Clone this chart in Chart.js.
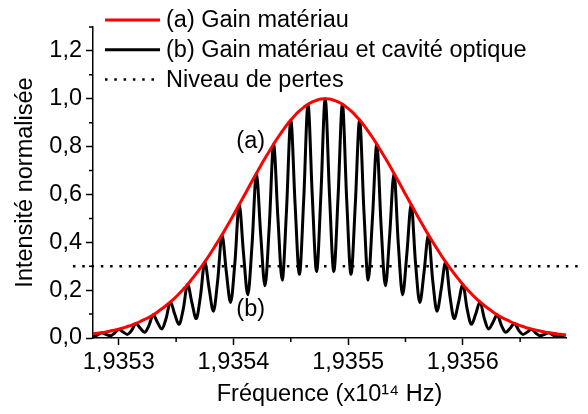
<!DOCTYPE html>
<html>
<head>
<meta charset="utf-8">
<script src="https://cdn.jsdelivr.net/npm/chart.js@4.4.1/dist/chart.umd.min.js"></script>
<style>
  body { margin: 0; background: #fff; }
  #cadre { width: 588px; height: 414px; }
</style>
</head>
<body>
<div id="cadre"><canvas id="graphe" width="588" height="414"></canvas></div>
<script>
// fréquence (x10^14 Hz)
const frequence = [
  1.9352775, 1.93528125, 1.935285, 1.93528875, 1.9352925, 1.93529625, 1.9353, 1.93530375,
  1.9353075, 1.93531125, 1.935315, 1.93531875, 1.9353225, 1.93532625, 1.93533, 1.93533375,
  1.9353375, 1.93534125, 1.935345, 1.93534875, 1.9353525, 1.93535625, 1.93536, 1.93536375,
  1.9353675, 1.93537125, 1.935375, 1.93537875, 1.9353825, 1.93538625, 1.93539, 1.93539375,
  1.9353975, 1.93540125, 1.935405, 1.93540875, 1.9354125, 1.93541625, 1.93542, 1.93542375,
  1.9354275, 1.93543125, 1.935435, 1.93543875, 1.9354425, 1.93544625, 1.93545, 1.93545375,
  1.9354575, 1.93546125, 1.935465, 1.93546875, 1.9354725, 1.93547625, 1.93548, 1.93548375,
  1.9354875, 1.93549125, 1.935495, 1.93549875, 1.9355025, 1.93550625, 1.93551, 1.93551375,
  1.9355175, 1.93552125, 1.935525, 1.93552875, 1.9355325, 1.93553625, 1.93554, 1.93554375,
  1.9355475, 1.93555125, 1.935555, 1.93555875, 1.9355625, 1.93556625, 1.93557, 1.93557375,
  1.9355775, 1.93558125, 1.935585, 1.93558875, 1.9355925, 1.93559625, 1.9356, 1.93560375,
  1.9356075, 1.93561125, 1.935615, 1.93561875, 1.9356225, 1.93562625, 1.93563, 1.93563375,
  1.9356375, 1.93564125, 1.935645, 1.93564875, 1.9356525, 1.93565625, 1.93566, 1.93566375,
  1.9356675, 1.93567125, 1.935675, 1.93567875, 1.9356825, 1.93568625, 1.93569
];

// (a) gain matériau
const gainMateriau = [
  0.018, 0.020, 0.022, 0.025, 0.029, 0.033, 0.037, 0.042,
  0.048, 0.054, 0.061, 0.069, 0.078, 0.086, 0.097, 0.109,
  0.122, 0.136, 0.151, 0.167, 0.185, 0.204, 0.224, 0.246,
  0.269, 0.293, 0.318, 0.345, 0.373, 0.402, 0.431, 0.462,
  0.493, 0.525, 0.558, 0.590, 0.623, 0.656, 0.688, 0.720,
  0.751, 0.781, 0.810, 0.838, 0.864, 0.889, 0.911, 0.931,
  0.949, 0.964, 0.977, 0.987, 0.994, 0.999, 1.000, 0.999,
  0.994, 0.987, 0.977, 0.964, 0.949, 0.931, 0.911, 0.889,
  0.864, 0.838, 0.810, 0.781, 0.751, 0.720, 0.688, 0.656,
  0.623, 0.590, 0.558, 0.525, 0.493, 0.462, 0.431, 0.402,
  0.373, 0.345, 0.318, 0.293, 0.269, 0.246, 0.224, 0.204,
  0.185, 0.167, 0.151, 0.136, 0.122, 0.109, 0.097, 0.086,
  0.078, 0.069, 0.061, 0.054, 0.048, 0.042, 0.037, 0.033,
  0.029, 0.025, 0.022, 0.020, 0.017, 0.015, 0.013
];

// (b) gain matériau et cavité optique
const gainCavite = [
  0.006, 0.012, 0.022, 0.015, 0.009, 0.020, 0.037, 0.025,
  0.015, 0.032, 0.061, 0.041, 0.024, 0.052, 0.097, 0.065,
  0.038, 0.082, 0.151, 0.100, 0.057, 0.122, 0.224, 0.148,
  0.081, 0.176, 0.318, 0.207, 0.112, 0.241, 0.431, 0.277,
  0.148, 0.315, 0.558, 0.354, 0.181, 0.394, 0.688, 0.432,
  0.218, 0.469, 0.810, 0.503, 0.242, 0.533, 0.911, 0.559,
  0.266, 0.578, 0.977, 0.592, 0.278, 0.599, 1.000, 0.599,
  0.278, 0.592, 0.977, 0.578, 0.266, 0.559, 0.911, 0.533,
  0.242, 0.503, 0.810, 0.469, 0.218, 0.432, 0.688, 0.394,
  0.181, 0.354, 0.558, 0.315, 0.148, 0.277, 0.431, 0.241,
  0.112, 0.207, 0.318, 0.176, 0.081, 0.148, 0.224, 0.122,
  0.057, 0.100, 0.151, 0.082, 0.038, 0.065, 0.097, 0.052,
  0.024, 0.041, 0.061, 0.032, 0.015, 0.025, 0.037, 0.020,
  0.009, 0.015, 0.022, 0.012, 0.005, 0.009, 0.013
];

// niveau de pertes
const niveauPertes = 0.3;
const pertesDebut = 1.93526;
const pertesFin = 1.935705;

const ticksX = [1.9353, 1.9354, 1.9355, 1.9356];
const ticksXMineurs = [1.93535, 1.93545, 1.93555, 1.93565];
const ticksY = [0, 0.2, 0.4, 0.6, 0.8, 1.0, 1.2];
const ticksYMineurs = [0.1, 0.3, 0.5, 0.7, 0.9, 1.1, 1.3];

const annotations = [
  { texte: '(a)', x: 1.935415, y: 0.82 },
  { texte: '(b)', x: 1.935415, y: 0.117 }
];

const police = '"Liberation Sans", Arial, sans-serif';
Chart.defaults.font.family = police;
Chart.defaults.font.size = 23.5;
Chart.defaults.color = '#000';

const ticksMineurs = {
  id: 'ticksMineurs',
  afterDraw(chart) {
    const { ctx, scales: { x, y } } = chart;
    ctx.save();
    ctx.strokeStyle = '#000';
    ctx.lineWidth = 1.5;
    ctx.beginPath();
    ticksXMineurs.forEach(v => {
      const px = x.getPixelForValue(v);
      ctx.moveTo(px, x.top);
      ctx.lineTo(px, x.top + 4);
    });
    ticksYMineurs.forEach(v => {
      const py = y.getPixelForValue(v);
      ctx.moveTo(y.right, py);
      ctx.lineTo(y.right - 4, py);
    });
    ctx.stroke();
    ctx.restore();
  }
};

const textes = {
  id: 'textes',
  afterDraw(chart) {
    const { ctx, scales: { x, y } } = chart;
    ctx.save();
    ctx.font = '23.5px ' + police;
    ctx.fillStyle = '#000';
    ctx.textBaseline = 'middle';
    ctx.textAlign = 'center';
    annotations.forEach(a => {
      ctx.fillText(a.texte, x.getPixelForValue(a.x), y.getPixelForValue(a.y));
    });

    // légende
    ctx.textAlign = 'left';
    chart.data.datasets.forEach((ds, i) => {
      const yy = 20 + i * 29.8;
      ctx.strokeStyle = ds.borderColor;
      ctx.lineWidth = ds.borderWidth;
      ctx.setLineDash(ds.borderDash || []);
      ctx.beginPath();
      ctx.moveTo(105, yy);
      ctx.lineTo(160, yy);
      ctx.stroke();
      ctx.fillText(ds.label, 166, yy + 1);
    });
    ctx.restore();
  }
};

new Chart(document.getElementById('graphe'), {
  type: 'line',
  data: {
    labels: frequence,
    datasets: [
      {
        label: '(a) Gain matériau',
        data: gainMateriau,
        borderColor: '#ff0000',
        borderWidth: 3,
        pointRadius: 0,
        tension: 0.4,
        fill: false
      },
      {
        label: '(b) Gain matériau et cavité optique',
        data: gainCavite,
        borderColor: '#000000',
        borderWidth: 3,
        pointRadius: 0,
        cubicInterpolationMode: 'monotone',
        fill: false
      },
      {
        label: 'Niveau de pertes',
        data: [{ x: pertesDebut, y: niveauPertes }, { x: pertesFin, y: niveauPertes }],
        borderColor: '#000000',
        borderWidth: 2.5,
        borderDash: [2.5, 6.8],
        pointRadius: 0,
        clip: false,
        fill: false
      }
    ]
  },
  options: {
    responsive: false,
    animation: false,
    layout: { padding: { top: 27, right: 22, left: 0, bottom: 0 } },
    plugins: {
      legend: { display: false },
      tooltip: { enabled: false }
    },
    scales: {
      x: {
        type: 'linear',
        min: frequence[0],
        max: frequence[frequence.length - 1],
        afterBuildTicks: s => { s.ticks = ticksX.map(v => ({ value: v })); },
        afterFit: s => { s.height = 76; },
        ticks: {
          autoSkip: false,
          maxRotation: 0,
          padding: 3,
          callback: v => v.toFixed(4).replace('.', ',')
        },
        grid: { drawOnChartArea: false, tickLength: 7, tickWidth: 1.5, tickColor: '#000' },
        border: { color: '#000', width: 1.5 },
        title: {
          display: true,
          text: 'Fréquence (x10¹⁴ Hz)',
          padding: { top: 0, bottom: 5 }
        }
      },
      y: {
        min: 0,
        max: 1.3,
        afterBuildTicks: s => { s.ticks = ticksY.map(v => ({ value: v })); },
        afterFit: s => { s.width = 93; },
        ticks: {
          padding: 4,
          callback: v => v.toFixed(1).replace('.', ',')
        },
        grid: { drawOnChartArea: false, tickLength: 7, tickWidth: 1.5, tickColor: '#000' },
        border: { color: '#000', width: 1.5 },
        title: {
          display: true,
          text: 'Intensité normalisée',
          padding: { top: 11, bottom: 0 }
        }
      }
    }
  },
  plugins: [ticksMineurs, textes]
});
</script>
</body>
</html>
